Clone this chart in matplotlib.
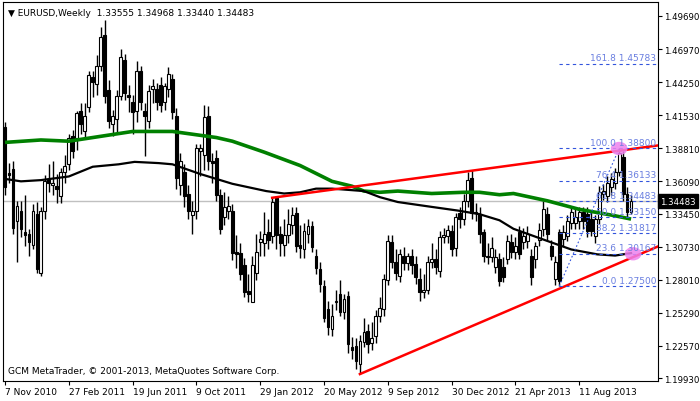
import matplotlib
matplotlib.use("Agg")
import matplotlib.pyplot as plt
from matplotlib.patches import Ellipse

opens = [1.406,1.368,1.371,1.328,1.337,1.319,1.318,1.309,1.334,1.286,
 1.337,1.363,1.358,1.357,1.349,1.369,1.375,1.398,1.397,1.419,
 1.402,1.422,1.447,1.441,1.456,1.481,1.436,1.408,1.412,1.431,
 1.461,1.432,1.426,1.419,1.452,1.419,1.411,1.437,1.437,1.440,
 1.426,1.437,1.445,1.415,1.358,1.369,1.351,1.333,1.337,1.386,
 1.383,1.415,1.378,1.380,1.350,1.332,1.337,1.337,1.303,1.302,
 1.292,1.271,1.262,1.286,1.311,1.310,1.319,1.316,1.347,1.318,
 1.309,1.317,1.325,1.335,1.309,1.305,1.318,1.324,1.300,1.289,
 1.275,1.256,1.240,1.262,1.268,1.254,1.267,1.225,1.226,1.211,
 1.229,1.238,1.228,1.234,1.250,1.256,1.280,1.311,1.295,1.283,
 1.300,1.294,1.300,1.293,1.281,1.270,1.272,1.295,1.297,1.287,
 1.315,1.316,1.320,1.306,1.335,1.330,1.345,1.364,1.336,1.334,
 1.319,1.300,1.299,1.291,1.297,1.291,1.297,1.311,1.303,1.319,
 1.311,1.312,1.300,1.297,1.313,1.322,1.334,1.308,1.281,1.319,
 1.314,1.316,1.327,1.327,1.328,1.336,1.334,1.330,1.316,1.330,
 1.351,1.349,1.356,1.360,1.369,1.381,1.351,1.33555]
closes = [1.356,1.366,1.323,1.341,1.322,1.317,1.311,1.337,1.289,1.337,
 1.361,1.360,1.360,1.355,1.369,1.374,1.397,1.386,1.417,1.408,
 1.415,1.448,1.443,1.456,1.480,1.431,1.411,1.415,1.431,1.463,
 1.434,1.430,1.418,1.452,1.426,1.415,1.435,1.439,1.426,1.424,
 1.439,1.449,1.418,1.364,1.378,1.349,1.337,1.337,1.388,1.388,
 1.414,1.378,1.376,1.350,1.322,1.340,1.341,1.302,1.301,1.285,
 1.270,1.268,1.292,1.303,1.314,1.318,1.313,1.344,1.317,1.310,
 1.317,1.326,1.333,1.308,1.306,1.320,1.324,1.307,1.290,1.277,
 1.249,1.241,1.250,1.263,1.254,1.264,1.227,1.222,1.213,1.230,
 1.237,1.227,1.232,1.250,1.257,1.281,1.312,1.295,1.286,1.301,
 1.294,1.300,1.292,1.282,1.270,1.272,1.295,1.297,1.291,1.315,
 1.317,1.321,1.305,1.332,1.330,1.345,1.362,1.335,1.335,1.318,
 1.300,1.299,1.306,1.299,1.279,1.282,1.312,1.303,1.308,1.301,
 1.316,1.318,1.282,1.308,1.321,1.338,1.318,1.300,1.295,1.279,
 1.319,1.328,1.336,1.332,1.336,1.328,1.320,1.320,1.330,1.352,
 1.353,1.360,1.363,1.369,1.384,1.351,1.3356,1.34483]
highs = [1.410,1.376,1.378,1.345,1.345,1.350,1.322,1.342,1.344,1.340,
 1.366,1.375,1.378,1.367,1.372,1.383,1.400,1.403,1.419,1.425,
 1.425,1.452,1.452,1.465,1.488,1.494,1.444,1.420,1.436,1.470,
 1.466,1.440,1.432,1.460,1.456,1.425,1.440,1.445,1.442,1.447,
 1.442,1.455,1.449,1.421,1.384,1.375,1.358,1.345,1.392,1.392,
 1.424,1.423,1.384,1.387,1.355,1.352,1.349,1.342,1.317,1.310,
 1.298,1.285,1.300,1.318,1.320,1.336,1.330,1.348,1.349,1.324,
 1.330,1.338,1.340,1.340,1.325,1.327,1.330,1.328,1.305,1.295,
 1.280,1.263,1.260,1.272,1.280,1.268,1.271,1.233,1.232,1.235,
 1.249,1.244,1.245,1.255,1.266,1.285,1.317,1.317,1.305,1.305,
 1.307,1.302,1.305,1.300,1.290,1.285,1.300,1.310,1.305,1.320,
 1.323,1.325,1.325,1.335,1.340,1.351,1.3687,1.370,1.343,1.340,
 1.322,1.310,1.315,1.305,1.302,1.299,1.317,1.318,1.315,1.324,
 1.323,1.324,1.305,1.311,1.327,1.345,1.340,1.313,1.300,1.322,
 1.325,1.333,1.340,1.340,1.340,1.340,1.340,1.336,1.333,1.357,
 1.359,1.365,1.368,1.372,1.388,1.386,1.356,1.34968]
lows = [1.350,1.360,1.318,1.295,1.315,1.308,1.300,1.305,1.286,1.283,
 1.330,1.352,1.350,1.343,1.343,1.360,1.370,1.380,1.387,1.400,
 1.396,1.418,1.430,1.432,1.452,1.425,1.405,1.398,1.400,1.428,
 1.428,1.418,1.400,1.410,1.420,1.382,1.405,1.425,1.420,1.418,
 1.420,1.430,1.412,1.355,1.350,1.340,1.330,1.318,1.330,1.365,
 1.370,1.370,1.360,1.345,1.318,1.325,1.330,1.296,1.290,1.280,
 1.266,1.262,1.262,1.280,1.300,1.300,1.305,1.310,1.305,1.300,
 1.300,1.310,1.318,1.303,1.298,1.298,1.310,1.303,1.285,1.270,
 1.245,1.235,1.234,1.255,1.250,1.248,1.220,1.215,1.207,1.2026,
 1.225,1.220,1.222,1.228,1.245,1.250,1.276,1.290,1.280,1.278,
 1.288,1.288,1.285,1.277,1.263,1.265,1.268,1.290,1.285,1.282,
 1.310,1.310,1.300,1.300,1.323,1.325,1.340,1.330,1.328,1.310,
 1.295,1.293,1.295,1.286,1.275,1.278,1.293,1.298,1.297,1.297,
 1.305,1.306,1.276,1.290,1.308,1.316,1.313,1.296,1.276,1.2750,
 1.308,1.312,1.322,1.322,1.322,1.322,1.315,1.316,1.310,1.326,
 1.346,1.344,1.350,1.355,1.365,1.345,1.330,1.33440]

ma_slow_x = [0,9,16,24,32,42,53,57,65,74,82,87,90,94,98.5,107,115,119,124,127.5,136,144,152.5,157]
ma_slow_y = [1.393,1.395,1.394,1.398,1.402,1.402,1.397,1.394,1.385,1.374,1.361,1.357,1.353,1.352,1.353,1.351,1.352,1.352,1.350,1.351,1.345,1.338,1.333,1.330]
ma_fast_x = [0,4,9,16,22,28.5,32.5,38.5,42,49,57,65.5,70,74,78,82,90,94,98.5,107,113.5,119,124,127.5,136,142,148.5,153,157]
ma_fast_y = [1.363,1.361,1.362,1.365,1.373,1.375,1.377,1.376,1.375,1.367,1.359,1.353,1.351,1.352,1.355,1.355,1.353,1.348,1.344,1.340,1.337,1.334,1.329,1.322,1.312,1.305,1.301,1.300,1.302]

upper_trend_x = [67, 163.75]
upper_trend_y = [1.3475, 1.3905]
lower_trend_x = [89, 163.75]
lower_trend_y = [1.2026, 1.3075]

fib_pct = ["0.0", "23.6", "38.2", "50.0", "61.8", "76.4", "100.0", "161.8"]
fib_lvl = [1.27500, 1.30167, 1.31817, 1.33150, 1.34483, 1.36133, 1.38800, 1.45783]
fib_anchor_x = [139, 154]

ytick_vals = [1.49690,1.46970,1.44250,1.41530,1.38810,1.36090,1.33450,1.30730,1.28010,1.25290,1.22570,1.19930]
xtick_idx = [0,16,32,48,64,80,96,112,128,144]
xtick_lbl = ["7 Nov 2010","27 Feb 2011","19 Jun 2011","9 Oct 2011","29 Jan 2012",
             "20 May 2012","9 Sep 2012","30 Dec 2012","21 Apr 2013","11 Aug 2013"]
last_price = 1.34483

plt.rcParams['font.family'] = ['DejaVu Sans']
fig = plt.figure(figsize=(7.0, 4.02), dpi=100)
ax = fig.add_axes([3/700, 20/402, 655/700, 379/402])
ax.set_xlim(-0.5, 163.75)
ax.set_ylim(1.1969, 1.5084)

ax.axhline(last_price, color='#c0c0c0', lw=1, zorder=1)

for i in range(len(closes)):
    o, c = opens[i], closes[i]
    h = max(highs[i], o, c); l = min(lows[i], o, c)
    ax.vlines(i, l, h, color='black', lw=1, zorder=3)
    bot = min(o, c); hgt = max(abs(c - o), 0.0006)
    face = 'white' if c >= o else 'black'
    ax.bar(i, hgt, bottom=bot, width=0.7, color=face, edgecolor='black', lw=0.8, zorder=4)

ax.plot(ma_slow_x, ma_slow_y, color='#008000', lw=2.6, zorder=5, solid_capstyle='butt')
ax.plot(ma_fast_x, ma_fast_y, color='black', lw=1.6, zorder=5)
ax.plot(upper_trend_x, upper_trend_y, color='#ff0000', lw=1.8, zorder=6)
ax.plot(lower_trend_x, lower_trend_y, color='#ff0000', lw=1.8, zorder=6)

for p, v in zip(fib_pct, fib_lvl):
    ax.plot([fib_anchor_x[0], 163.75], [v, v], color='#3355dd', lw=0.8, dashes=(3, 3), zorder=6)
    ax.text(163.3, v + 0.0012, f"{p} {v:.5f}", color='#6a7fe0', fontsize=6.5,
            ha='right', va='bottom', zorder=7)
ax.plot(fib_anchor_x, [fib_lvl[0], fib_lvl[6]], color='#3355dd', lw=0.8, dashes=(1.5, 2), zorder=6)

for ex, ey in [(154, 1.388), (157.5, 1.3015)]:
    ax.add_patch(Ellipse((ex, ey), 4.2, 0.011, color='#ee82ee', alpha=0.85, zorder=6, lw=0))

ax.yaxis.tick_right()
ax.set_yticks(ytick_vals)
ax.set_yticklabels([f"{v:.5f}" for v in ytick_vals], fontsize=6.2)
ax.set_xticks(xtick_idx)
ax.set_xticklabels(xtick_lbl, fontsize=6.5, ha='left')
ax.tick_params(axis='both', length=3, width=0.8, pad=1.5)
for sp in ax.spines.values():
    sp.set_linewidth(0.8)

ax.text(164.3, last_price, "1.34483", color='white', fontsize=6.2,
        ha='left', va='center', zorder=10, clip_on=False,
        bbox=dict(boxstyle='square,pad=0.25', fc='black', ec='black'))

ax.text(0.008, 0.985, "▼ EURUSD,Weekly  1.33555 1.34968 1.33440 1.34483", transform=ax.transAxes,
        fontsize=6.5, ha='left', va='top')
ax.text(0.008, 0.015, "GCM MetaTrader, © 2001-2013, MetaQuotes Software Corp.", transform=ax.transAxes,
        fontsize=6.5, ha='left', va='bottom')

fig.savefig("out.png", dpi=100)
